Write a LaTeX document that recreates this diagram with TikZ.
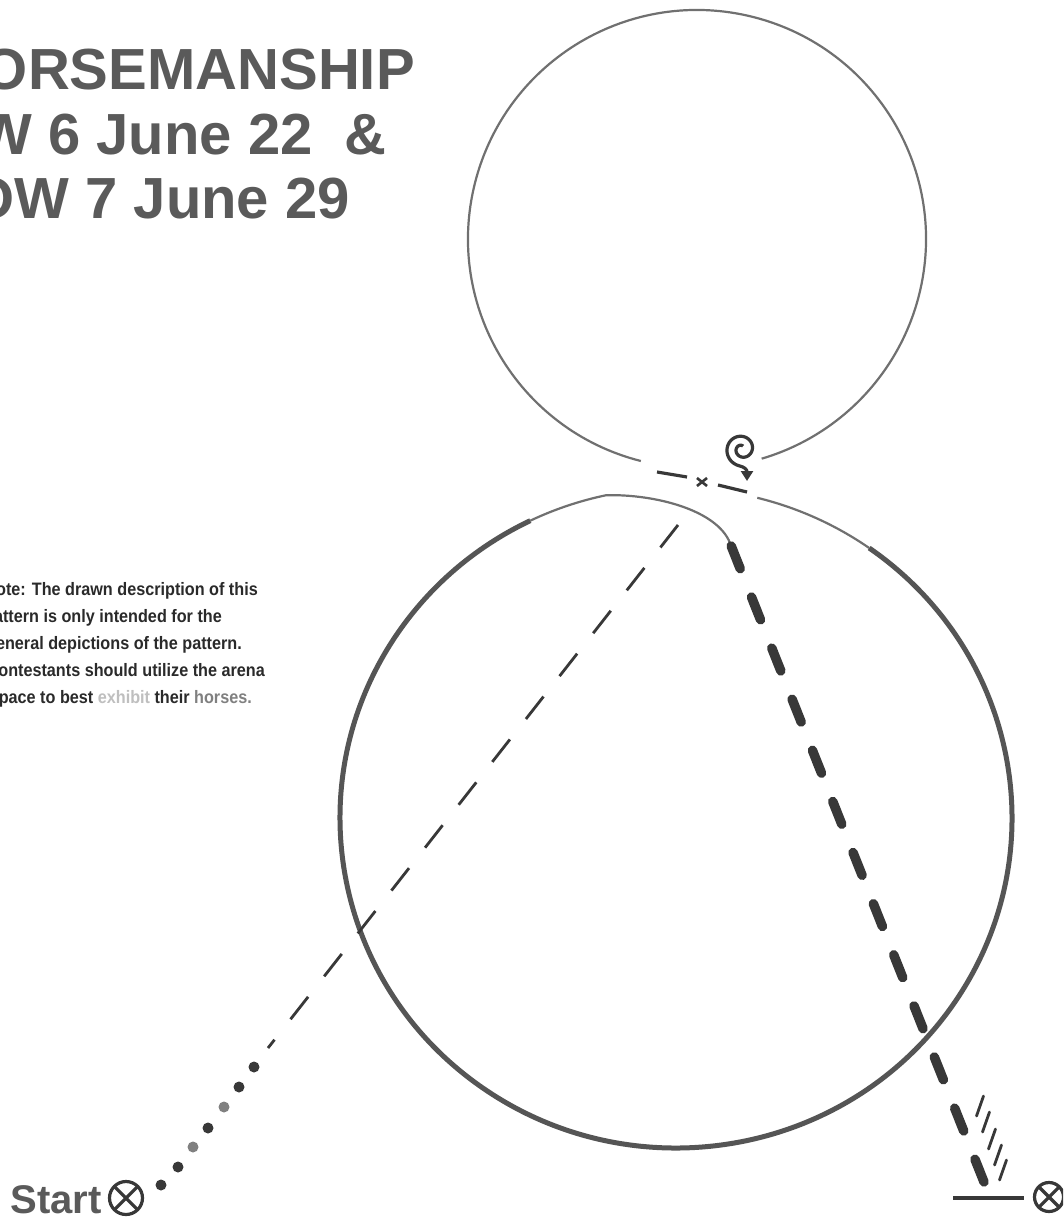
\documentclass[tikz,border=0pt]{standalone}
\usepackage{fontspec}
\setmainfont{Liberation Sans}
\newfontfamily\notefont[FakeStretch=0.9]{Liberation Sans}
\usetikzlibrary{arrows.meta}
\definecolor{titlegray}{HTML}{5A5A5A}
\definecolor{inkdark}{HTML}{383838}
\definecolor{circgray}{HTML}{707070}
\definecolor{circdark}{HTML}{555555}
\definecolor{notedark}{HTML}{2A2A2A}
\begin{document}
\begin{tikzpicture}[x=1pt,y=-1pt,
  titletext/.style={font=\fontsize{58}{64}\selectfont\bfseries, text=titlegray, inner sep=0pt, anchor=base east},
  notetext/.style={font=\notefont\fontsize{18}{27}\selectfont\bfseries, text=notedark, inner sep=0pt, anchor=base east},
  thinpath/.style={draw=circgray, line width=2.2pt},
  thickpath/.style={draw=circdark, line width=5pt},
  guide/.style={draw=inkdark, line width=2.8pt, dash pattern=on 28.5pt off 26pt},
  thickdash/.style={draw=inkdark, line width=9.5pt, line cap=round, dash pattern=on 24.5pt off 30.5pt},
  smallmark/.style={draw=inkdark, line width=3.2pt},
  otimes/.style={draw=inkdark, line width=3.2pt}]
\clip (0,0) rectangle (1063,1217);
\fill[white] (0,0) rectangle (1063,1217);

% title
\node[titletext] (t1) at (415,90) {ORSEMANSHIP};
\node[titletext] (t2) at (387,155) {W 6 June 22\ \ \&};
\node[titletext] (t3) at (350,218) {OW 7 June 29};

% note
\node[notetext] (n1) at (258,595) {ote: The drawn description of this};
\node[notetext] (n2) at (222,622) {attern is only intended for the};
\node[notetext] (n3) at (242,649) {eneral depictions of the pattern.};
\node[notetext] (n4) at (265,676) {ontestants should utilize the arena};
\node[notetext] (n5) at (252,703) {pace to best \textcolor{gray!50}{exhibit} their \textcolor{gray}{horses.}};

% top circle
\coordinate (ctop) at (697,239);
\draw[thinpath] (ctop) ++(104.2:229) arc[start angle=104.2, end angle=433.6, radius=229];

% bottom circle (slightly oval)
\coordinate (cbot) at (676,818);
\draw[thickpath] (cbot) ++(-54.9:336 and 330) arc[start angle=-54.9, end angle=244.3, x radius=336, y radius=330];
\draw[thinpath] (cbot) ++(-76:336 and 330) arc[start angle=-76, end angle=-54.9, x radius=336, y radius=330];
\coordinate (turnA) at (730,543);
\draw[thinpath] (cbot) ++(244.3:336 and 330) arc[start angle=244.3, end angle=258, x radius=336, y radius=330]
  .. controls (655,494) and (717,510) .. (turnA);

% crossing dashes and centre mark
\coordinate (cx) at (702,482);
\draw[smallmark] (657,472) -- (687,477);
\draw[smallmark] (718,485) -- (747,492);
\draw[smallmark, line width=2.6pt] (cx) ++(-5,-4) -- ++(10,8);
\draw[smallmark, line width=2.6pt] (cx) ++(-5,4) -- ++(10,-8);

% spiral
\draw[draw=inkdark, line width=3.2pt, -{Triangle[length=10pt,width=12pt]}]
  plot[domain=0:1, samples=100, smooth] ({742+(3+14*\x)*cos(290-550*\x)}, {449+(3+14*\x)*sin(290-550*\x)})
  .. controls (745,467) and (747,470) .. (747,481);

% start: dots and thin dashed guide
\coordinate (gtop) at (678,525);
\coordinate (gbot) at (268,1048);
\draw[guide] (gtop) -- (gbot);
\fill[inkdark] (254,1067) circle[radius=5.5];
\fill[inkdark] (239,1087) circle[radius=5.5];
\fill[gray] (224,1107) circle[radius=5.5];
\fill[inkdark] (208,1128) circle[radius=5.5];
\fill[gray] (193,1147) circle[radius=5.5];
\fill[inkdark] (178,1167) circle[radius=5.5];
\fill[inkdark] (161,1185) circle[radius=5.5];

% thick dashed diagonal
\coordinate (dend) at (984,1182);
\draw[thickdash] (dend) -- (turnA);

% hatch marks and end line
\foreach \hx/\hy in {980/1106, 986/1122, 992/1139, 998/1155, 1003/1170}
  \draw[draw=inkdark, line width=2.8pt, line cap=round] (\hx+3.5,\hy-10) -- (\hx-3.5,\hy+10);
\coordinate (lineL) at (953,1198);
\coordinate (lineR) at (1024,1198);
\draw[smallmark] (lineL) -- (lineR);

% otimes markers
\coordinate (oS) at (126,1198);
\draw[otimes] (oS) circle[radius=16.5];
\draw[otimes] (oS) ++(45:16.5) -- ++(225:33);
\draw[otimes] (oS) ++(135:16.5) -- ++(-45:33);
\coordinate (oE) at (1049,1197);
\draw[otimes] (oE) circle[radius=14.5];
\draw[otimes] (oE) ++(45:14.5) -- ++(225:29);
\draw[otimes] (oE) ++(135:14.5) -- ++(-45:29);

\node[font=\fontsize{40}{44}\selectfont\bfseries, text=titlegray, inner sep=0pt, anchor=base east] (st) at (102,1213) {Start};
\end{tikzpicture}
\end{document}
